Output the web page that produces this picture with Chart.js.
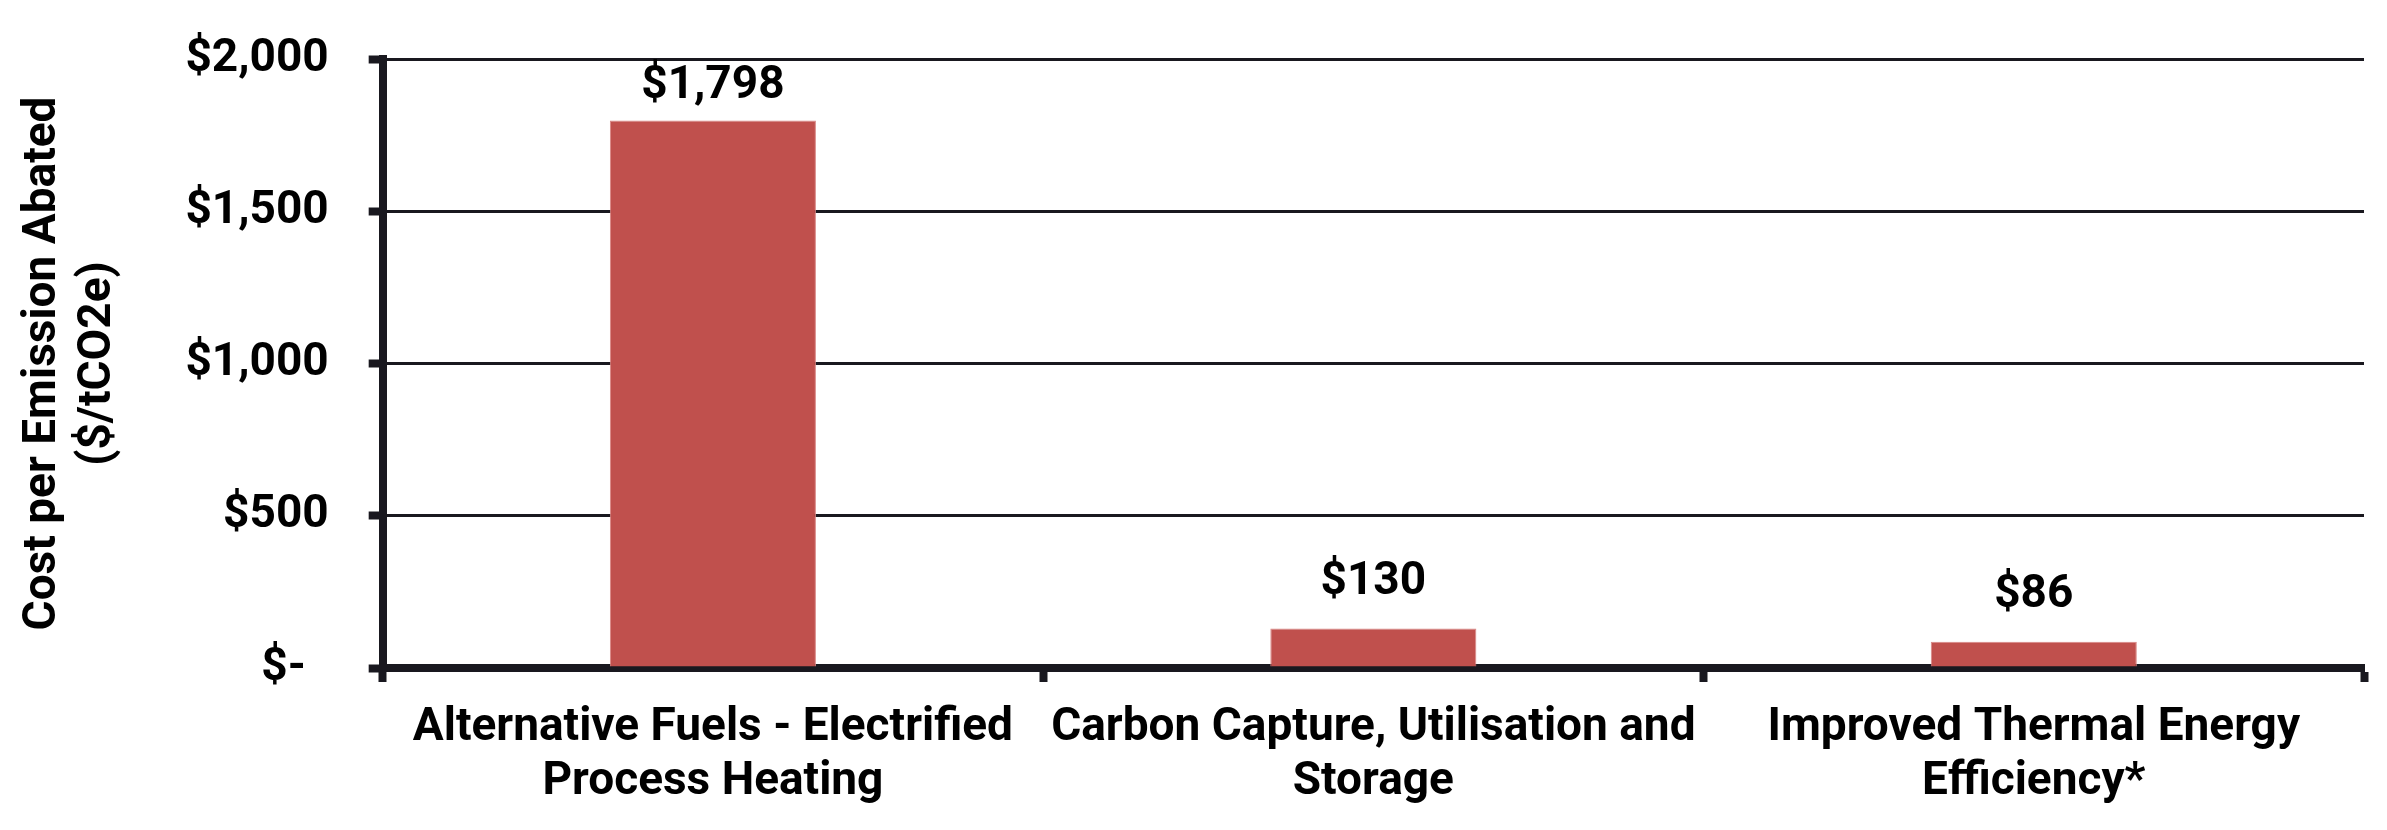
<!DOCTYPE html>
<html>
<head>
<meta charset="utf-8">
<script src="https://cdn.jsdelivr.net/npm/chart.js@4.4.1/dist/chart.umd.min.js"></script>
<style>
  html, body { margin: 0; padding: 0; background: #ffffff; }
  #wrap { width: 2387px; height: 830px; }
</style>
</head>
<body>
<div id="wrap"><canvas id="c" width="2387" height="830"></canvas></div>
<script>
// ---- data ----
const categories = [
  ["Alternative Fuels - Electrified", "Process Heating"],
  ["Carbon Capture, Utilisation and", "Storage"],
  ["Improved Thermal Energy", "Efficiency*"]
];
const costValues = [1798, 130, 86];
const yTickValues = [0, 500, 1000, 1500, 2000];
const yTickLabels = ["$-  ", "$500", "$1,000", "$1,500", "$2,000"];
const yTitleLines = ["Cost per Emission Abated", "($/tCO2e)"];

const FONT = "Roboto";
const FSIZE = 46;
const INK = "#000000";
const LINE = "#19181f";
const BAR = "#C0504D";

const valueLabels = {
  id: 'valueLabels',
  afterDatasetsDraw(chart) {
    const ctx = chart.ctx;
    const meta = chart.getDatasetMeta(0);
    const top = chart.chartArea.top;
    ctx.save();
    ctx.font = "bold " + FSIZE + "px " + FONT;
    ctx.fillStyle = INK;
    ctx.textAlign = "center";
    ctx.textBaseline = "middle";
    meta.data.forEach((el, i) => {
      const v = chart.data.datasets[0].data[i];
      const txt = "$" + v.toLocaleString("en-US");
      const y = Math.max(el.y - 46, top + 27);
      ctx.fillText(txt, el.x, y);
    });
    ctx.restore();
  }
};

function build() {
  new Chart(document.getElementById('c'), {
    type: 'bar',
    data: {
      labels: categories,
      datasets: [{
        data: costValues,
        backgroundColor: BAR,
        borderColor: "#d98684",
        borderWidth: 1,
        borderSkipped: 'start',
        categoryPercentage: 1.0,
        barPercentage: 0.312
      }]
    },
    options: {
      responsive: false,
      devicePixelRatio: 1,
      animation: false,
      events: [],
      layout: { padding: { top: 59, right: 23, bottom: 0, left: 0 } },
      plugins: {
        legend: { display: false },
        tooltip: { enabled: false },
        title: { display: false }
      },
      scales: {
        x: {
          afterFit(axis) { axis.height = 162; },
          grid: {
            display: true,
            drawOnChartArea: false,
            drawTicks: true,
            offset: true,
            tickLength: 14,
            tickWidth: 8,
            tickColor: LINE
          },
          border: { display: true, width: 8, color: LINE },
          ticks: {
            color: INK,
            padding: 19,
            maxRotation: 0,
            autoSkip: false,
            font: { family: FONT, size: FSIZE, weight: 'bold', lineHeight: 1.18 }
          }
        },
        y: {
          min: 0,
          max: 2000,
          afterBuildTicks(axis) { axis.ticks = yTickValues.map(v => ({ value: v })); },
          afterFit(axis) { axis.paddingTop = 0; axis.paddingBottom = 0; },
          grid: {
            display: true,
            drawOnChartArea: true,
            drawTicks: true,
            color: LINE,
            lineWidth: 3,
            tickLength: 14,
            tickWidth: 8,
            tickColor: LINE
          },
          border: { display: true, width: 8, color: LINE },
          ticks: {
            color: INK,
            padding: 40,
            font: { family: FONT, size: FSIZE, weight: 'bold' },
            callback(value) {
              const idx = yTickValues.indexOf(value);
              return idx >= 0 ? yTickLabels[idx] : '';
            }
          },
          title: {
            display: true,
            text: yTitleLines,
            color: INK,
            font: { family: FONT, size: FSIZE, weight: 'bold', lineHeight: 1.2 },
            padding: { top: 16, bottom: 19 }
          }
        }
      }
    },
    plugins: [valueLabels]
  });
}

if (document.fonts && document.fonts.load) {
  document.fonts.load("bold 46px Roboto").then(build, build);
} else {
  build();
}
</script>
</body>
</html>
